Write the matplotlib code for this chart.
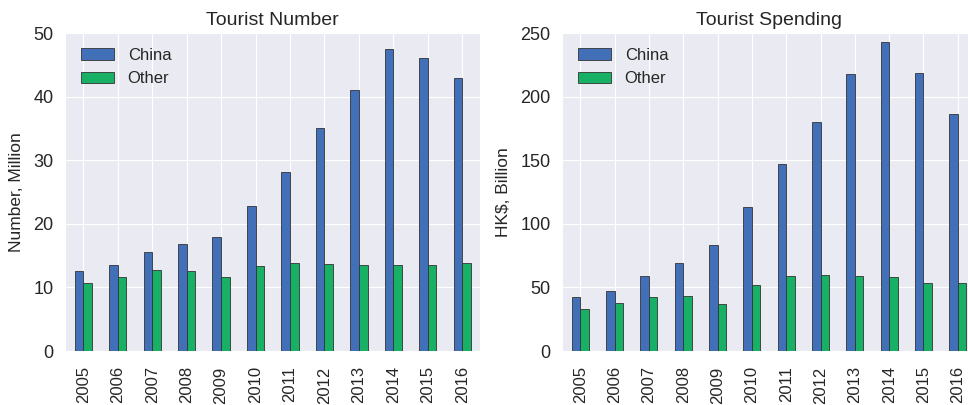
import numpy as np
import matplotlib
matplotlib.use("Agg")
import matplotlib.pyplot as plt

plt.style.use("seaborn-v0_8-darkgrid")
plt.rcParams['font.family'] = ['Liberation Sans', 'DejaVu Sans']

years = [str(y) for y in range(2005, 2017)]
number_china = [12.6, 13.5, 15.5, 16.8, 17.9, 22.8, 28.2, 35.0, 41.0, 47.5, 46.0, 43.0]
number_other = [10.7, 11.7, 12.8, 12.6, 11.7, 13.3, 13.9, 13.7, 13.5, 13.5, 13.5, 13.9]
spend_china = [42.5, 47.2, 59.3, 69.3, 83.4, 113.0, 147.4, 179.7, 217.7, 242.9, 218.8, 186.3]
spend_other = [33.3, 38.0, 42.8, 43.5, 37.3, 51.9, 59.3, 60.1, 59.3, 58.2, 53.5, 53.5]

blue = "#4170B9"
green = "#18B064"

fig = plt.figure(figsize=(9.68, 4.05), dpi=100)
# right panel runs a little past the figure edge, as in the cropped reference
ax1 = fig.add_axes([66/968, 54/405, 413.5/968, 318/405])
ax2 = fig.add_axes([563/968, 54/405, 412/968, 318/405])

x = np.arange(len(years))
w = 0.25

def draw(ax, china, other, title, ylabel, ymax):
    ax.bar(x - w/2, china, w, color=blue, edgecolor="#333333", linewidth=0.6, label="China")
    ax.bar(x + w/2, other, w, color=green, edgecolor="#333333", linewidth=0.6, label="Other")
    ax.set_xlim(-0.5, len(years) - 0.5)
    ax.set_ylim(0, ymax)
    ax.set_xticks(x)
    ax.set_xticklabels(years, rotation=90, fontsize=12)
    ax.tick_params(axis='y', labelsize=13, pad=9)
    ax.tick_params(axis='x', pad=11)
    ax.set_title(title, fontsize=14)
    ax.set_ylabel(ylabel, fontsize=12.5, labelpad=7)
    ax.legend(loc='upper left', fontsize=12)

draw(ax1, number_china, number_other, "Tourist Number", "Number, Million", 50)
draw(ax2, spend_china, spend_other, "Tourist Spending", "HK$, Billion", 250)

fig.savefig("out.png", dpi=100)
